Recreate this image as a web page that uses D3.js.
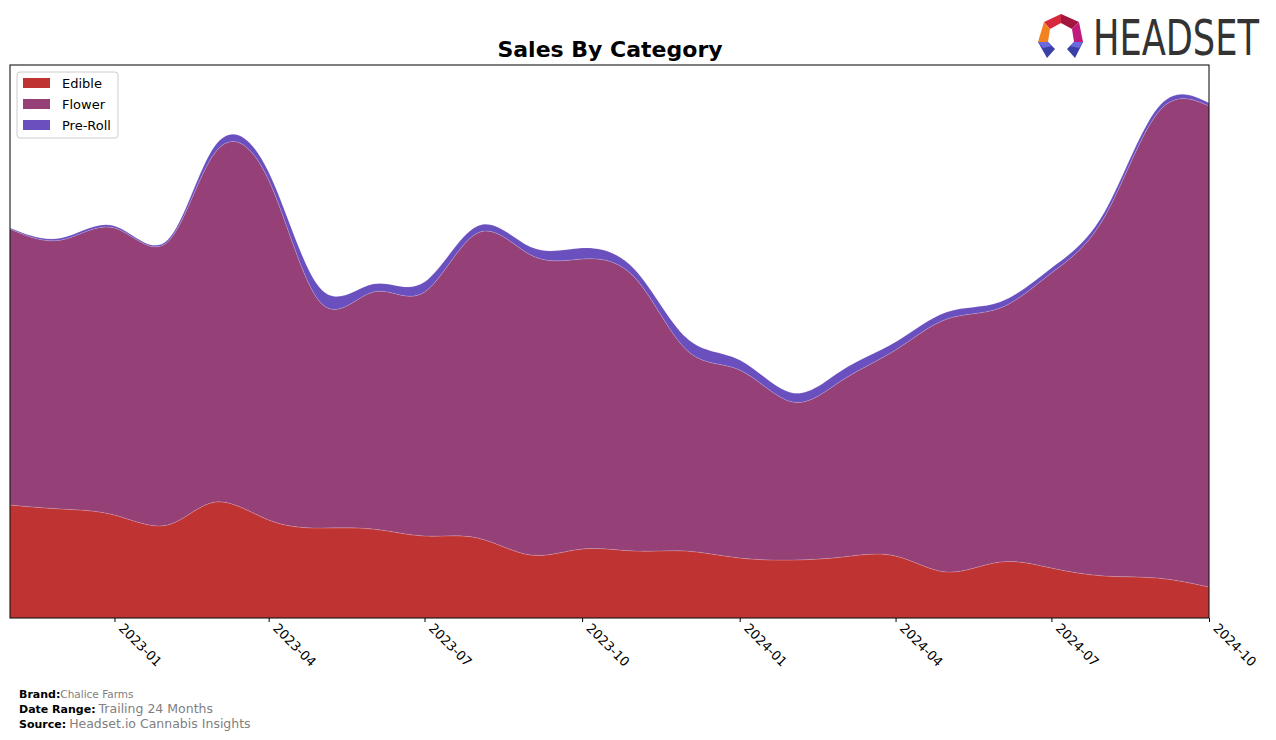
<!DOCTYPE html>
<html>
<head>
<meta charset="utf-8">
<script src="https://cdn.jsdelivr.net/npm/d3@7"></script>
<style>
  body { margin: 0; background: #fff; }
  svg { font-family: "DejaVu Sans", sans-serif; }
</style>
</head>
<body>
<div id="chart"></div>
<script>
// Monthly sales by category (arbitrary units)
var months = ["2022-11", "2022-12", "2023-01", "2023-02", "2023-03", "2023-04",
              "2023-05", "2023-06", "2023-07", "2023-08", "2023-09", "2023-10",
              "2023-11", "2023-12", "2024-01", "2024-02", "2024-03", "2024-04",
              "2024-05", "2024-06", "2024-07", "2024-08", "2024-09", "2024-10"];
var edible  = [113, 109, 103, 93, 116, 98, 90, 89, 82, 80, 63, 69,
               67, 67, 60, 58, 61, 62, 46, 56, 50, 42, 40, 31];
var flower  = [276, 269, 287, 283, 350, 340, 226, 237, 244, 305, 300, 290,
               273, 201, 188, 158, 177, 206, 253, 254, 295, 359, 465, 481];
var preRoll = [1, 2, 2, 2, 7, 8, 14, 8, 10, 7, 8, 11,
               8, 12, 10, 9, 10, 8, 7, 6, 5, 5, 5, 3];
var categories = ["Edible", "Flower", "Pre-Roll"];
var colors = ["#c03333", "#954077", "#6a4fbe"];
var tickMonths = ["2023-01", "2023-04", "2023-07", "2023-10", "2024-01", "2024-04", "2024-07", "2024-10"];
var yTop = 553; // upper y limit (max total + 5%)

var svgWidth = 1276;
var svgHeight = 740;
var margin = { top: 65, left: 10, right: 67, bottom: 122 };
var width = svgWidth - margin.left - margin.right;
var height = svgHeight - margin.top - margin.bottom;

var parseMonth = d3.timeParse("%Y-%m");

var svg = d3.select("#chart")
  .append("svg")
  .attr("width", svgWidth)
  .attr("height", svgHeight);

var chartGroup = svg.append("g")
  .attr("transform", `translate(${margin.left}, ${margin.top})`);

// Build table for stack
var table = months.map(function(m, i) {
  return { date: parseMonth(m), "Edible": edible[i], "Flower": flower[i], "Pre-Roll": preRoll[i] };
});

var series = d3.stack().keys(categories)(table);

var xScale = d3.scaleTime()
  .domain([parseMonth(months[0]), parseMonth(months[months.length - 1])])
  .range([0, width]);

var yScale = d3.scaleLinear()
  .domain([0, yTop])
  .range([height, 0]);

var area = d3.area()
  .x(d => xScale(d.data.date))
  .y0(d => yScale(d[0]))
  .y1(d => yScale(d[1]))
  .curve(d3.curveNatural);

chartGroup.selectAll(".layer")
  .data(series)
  .enter()
  .append("path")
  .attr("class", "layer")
  .attr("d", area)
  .attr("fill", (d, i) => colors[i])
  .attr("stroke", "rgba(255,255,255,0.25)")
  .attr("stroke-width", 0.6);

// Frame
chartGroup.append("rect")
  .attr("width", width)
  .attr("height", height)
  .attr("fill", "none")
  .attr("stroke", "#000")
  .attr("stroke-width", 1);

// X axis
var bottomAxis = d3.axisBottom(xScale)
  .tickValues(tickMonths.map(parseMonth))
  .tickFormat(d3.timeFormat("%Y-%m"))
  .tickSize(4)
  .tickSizeOuter(0);

var xAxis = chartGroup.append("g")
  .attr("transform", `translate(0, ${height})`)
  .call(bottomAxis);
xAxis.select(".domain").remove();
xAxis.selectAll("text")
  .attr("font-family", "DejaVu Sans")
  .attr("font-size", 13)
  .attr("fill", "#000")
  .attr("text-anchor", "start")
  .attr("dy", null)
  .attr("y", 0)
  .attr("transform", "translate(3, 11) rotate(45)");

// Title
svg.append("text")
  .attr("x", 610)
  .attr("y", 57)
  .attr("text-anchor", "middle")
  .attr("font-size", 22)
  .attr("font-weight", "bold")
  .text("Sales By Category");

// Legend
var legend = svg.append("g").attr("transform", "translate(17, 72)");
legend.append("rect")
  .attr("width", 101)
  .attr("height", 66)
  .attr("rx", 3)
  .attr("fill", "#fff")
  .attr("stroke", "#ccc");
categories.forEach(function(c, i) {
  legend.append("rect")
    .attr("x", 6)
    .attr("y", 6 + i * 21)
    .attr("width", 27)
    .attr("height", 10)
    .attr("fill", colors[i]);
  legend.append("text")
    .attr("x", 45)
    .attr("y", 16 + i * 21)
    .attr("font-size", 13)
    .text(c);
});

// Footer
var footer = [["Brand:", "Chalice Farms", 10.5], ["Date Range:", "Trailing 24 Months", 12.5], ["Source:", "Headset.io Cannabis Insights", 12.5]];
footer.forEach(function(f, i) {
  var t = svg.append("text")
    .attr("x", 19)
    .attr("y", 698 + i * 15)
    .attr("font-size", 11);
  t.append("tspan").attr("font-weight", "bold").attr("fill", "#000").text(f[0]);
  t.append("tspan").attr("fill", "#808080").attr("font-size", f[2]).attr("dx", i === 0 ? 0 : 3).text(f[1]);
});

// Logo
var logo = svg.append("g");
var pieces = [
  { c: "#d8283e", p: [[1044,22],[1061,14],[1061,23],[1050,29]] },
  { c: "#a3163f", p: [[1061,14],[1079,22],[1072,29],[1061,23]] },
  { c: "#c01a7c", p: [[1079,22],[1083,42],[1074,42],[1072,29]] },
  { c: "#f2821f", p: [[1044,22],[1050,29],[1048,42],[1038,42]] },
  { c: "#3b3fa8", p: [[1038,42],[1048,42],[1055,49],[1047,58]] },
  { c: "#3b3fa8", p: [[1074,42],[1083,42],[1075,58],[1067,49]] },
  { c: "#6a6ae0", p: [[1038,42],[1048,42],[1052,46],[1043,48]] },
  { c: "#6a6ae0", p: [[1074,42],[1083,42],[1079,48],[1070,46]] }
];
pieces.forEach(function(pc) {
  logo.append("polygon")
    .attr("points", pc.p.map(q => q.join(",")).join(" "))
    .attr("fill", pc.c);
});
var logoText = logo.append("text")
  .attr("x", 0)
  .attr("y", 0)
  .attr("font-family", "DejaVu Sans Condensed, DejaVu Sans")
  .attr("font-size", 50)
  .attr("fill", "#333")
  .text("HEADSET");
var naturalW = logoText.node().getComputedTextLength();
logoText.attr("transform", `translate(1093, 55) scale(${166 / naturalW}, 1)`);
</script>
</body>
</html>
